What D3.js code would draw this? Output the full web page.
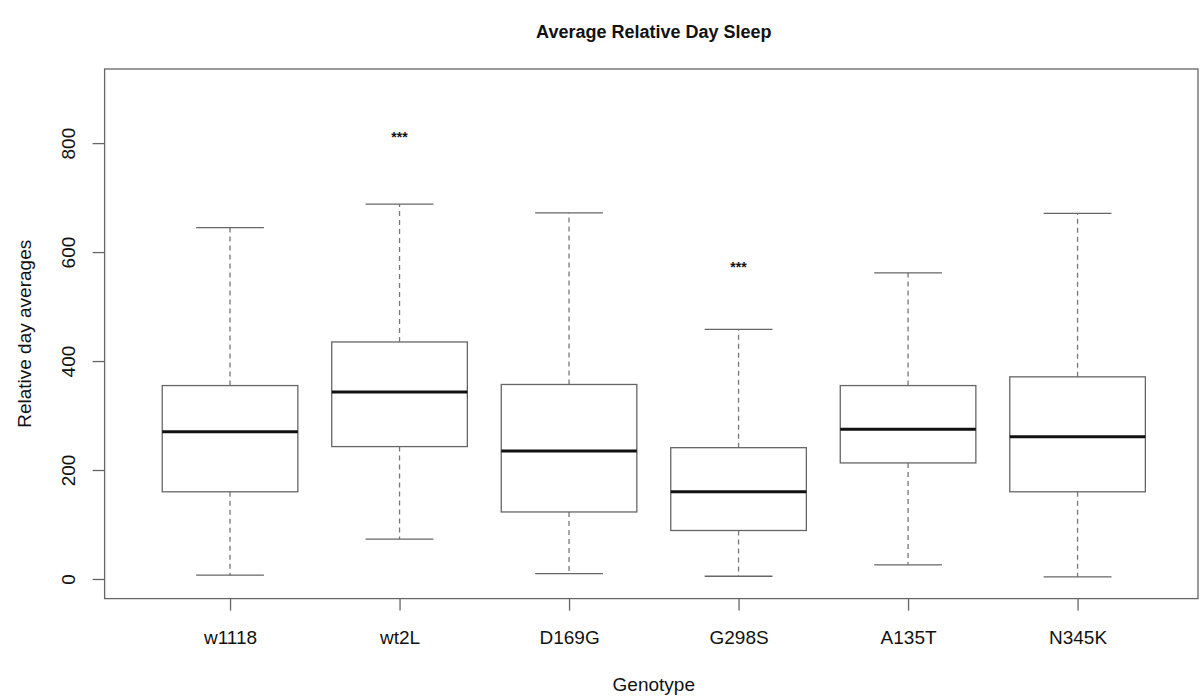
<!DOCTYPE html>
<html>
<head>
<meta charset="utf-8">
<script src="https://cdn.jsdelivr.net/npm/d3@7"></script>
<style>
  body { margin: 0; background: #fff; }
  text { font-family: "Liberation Sans", Arial, sans-serif; fill: #111; }
</style>
</head>
<body>
<svg id="chart" width="1201" height="698"></svg>
<script>
// genotypes on the x axis
var genotypes = ["w1118", "wt2L", "D169G", "G298S", "A135T", "N345K"]
// five number summaries
var whiskerLow  = [7,   73,  10,  5,   26,  4]
var boxLow      = [160, 243, 123, 89,  213, 160]
var medians     = [270, 343, 235, 160, 275, 261]
var boxHigh     = [355, 435, 357, 241, 355, 371]
var whiskerHigh = [645, 688, 672, 458, 562, 671]
// significance marks
var starLabels = ["", "***", "", "***", "", ""]
var starValues = [null, 816, null, 578, null, null]
var yTicks = [0, 200, 400, 600, 800]

var svg = d3.select("#chart")

var plotLeft = 104.6, plotRight = 1203, plotTop = 69, plotBottom = 598.6

// R style: domain padded by 4%
var xScale = d3.scaleLinear()
    .domain([0.26, 6.74])
    .range([plotLeft, plotRight])

var yScale = d3.scaleLinear()
    .domain([-36, 936])
    .range([plotBottom, plotTop])

var unit = xScale(2) - xScale(1)
var boxW = unit * 0.8
var capW = boxW * 0.5

// plot frame
svg.append("rect")
    .attr("x", plotLeft)
    .attr("y", plotTop)
    .attr("width", 1198 - plotLeft)
    .attr("height", plotBottom - plotTop)
    .attr("fill", "none")
    .attr("stroke", "#666")
    .attr("stroke-width", 1.3)

// y axis
var yAxis = svg.append("g")
    .attr("transform", "translate(" + plotLeft + ",0)")
    .call(d3.axisLeft(yScale).tickValues(yTicks).tickSize(12).tickPadding(0).tickFormat(d3.format("d")))
yAxis.select(".domain").remove()
yAxis.selectAll(".tick line").attr("stroke", "#666").attr("stroke-width", 1.3)
yAxis.selectAll(".tick text")
    .attr("transform", "rotate(-90)")
    .attr("x", 0)
    .attr("y", -30)
    .attr("dy", 0)
    .attr("text-anchor", "middle")
    .attr("font-size", 19)
    .attr("fill", "#111")

// x axis
var xAxis = svg.append("g")
    .attr("transform", "translate(0," + plotBottom + ")")
    .call(d3.axisBottom(xScale).tickValues(d3.range(1, genotypes.length + 1))
        .tickSize(12).tickFormat(function(d) { return genotypes[d - 1] }))
xAxis.select(".domain").remove()
xAxis.selectAll(".tick line").attr("stroke", "#666").attr("stroke-width", 1.3)
xAxis.selectAll(".tick text")
    .attr("y", 45)
    .attr("dy", 0)
    .attr("font-size", 19)
    .attr("fill", "#111")

// boxes
var groups = svg.selectAll(".box")
    .data(genotypes)
    .enter().append("g")
    .attr("class", "box")

groups.each(function(name, i) {
    var g = d3.select(this)
    var cx = xScale(i + 1)

    // dashed whiskers
    g.append("line")
        .attr("x1", cx).attr("x2", cx)
        .attr("y1", yScale(boxHigh[i])).attr("y2", yScale(whiskerHigh[i]))
        .attr("stroke", "#777").attr("stroke-width", 1.3)
        .attr("stroke-dasharray", "5,4")
    g.append("line")
        .attr("x1", cx).attr("x2", cx)
        .attr("y1", yScale(boxLow[i])).attr("y2", yScale(whiskerLow[i]))
        .attr("stroke", "#777").attr("stroke-width", 1.3)
        .attr("stroke-dasharray", "5,4")

    // caps
    g.append("line")
        .attr("x1", cx - capW / 2).attr("x2", cx + capW / 2)
        .attr("y1", yScale(whiskerHigh[i])).attr("y2", yScale(whiskerHigh[i]))
        .attr("stroke", "#666").attr("stroke-width", 1.3)
    g.append("line")
        .attr("x1", cx - capW / 2).attr("x2", cx + capW / 2)
        .attr("y1", yScale(whiskerLow[i])).attr("y2", yScale(whiskerLow[i]))
        .attr("stroke", "#666").attr("stroke-width", 1.3)

    // box
    g.append("rect")
        .attr("x", cx - boxW / 2)
        .attr("y", yScale(boxHigh[i]))
        .attr("width", boxW)
        .attr("height", yScale(boxLow[i]) - yScale(boxHigh[i]))
        .attr("fill", "white")
        .attr("stroke", "#666").attr("stroke-width", 1.3)

    // median
    g.append("line")
        .attr("x1", cx - boxW / 2).attr("x2", cx + boxW / 2)
        .attr("y1", yScale(medians[i])).attr("y2", yScale(medians[i]))
        .attr("stroke", "#111").attr("stroke-width", 3)

    if (starValues[i] != null) {
        g.append("text")
            .attr("x", cx)
            .attr("y", yScale(starValues[i]))
            .attr("dy", "0.55em")
            .attr("text-anchor", "middle")
            .attr("font-size", 14)
            .attr("font-weight", "bold")
            .text(starLabels[i])
    }
})

// titles
svg.append("text")
    .attr("x", (plotLeft + plotRight) / 2)
    .attr("y", 38)
    .attr("text-anchor", "middle")
    .attr("font-size", 18)
    .attr("font-weight", "bold")
    .text("Average Relative Day Sleep")

svg.append("text")
    .attr("x", (plotLeft + plotRight) / 2)
    .attr("y", 691)
    .attr("text-anchor", "middle")
    .attr("font-size", 19)
    .text("Genotype")

svg.append("text")
    .attr("transform", "translate(31," + (plotTop + plotBottom) / 2 + ")rotate(-90)")
    .attr("text-anchor", "middle")
    .attr("font-size", 19)
    .text("Relative day averages")
</script>
</body>
</html>
